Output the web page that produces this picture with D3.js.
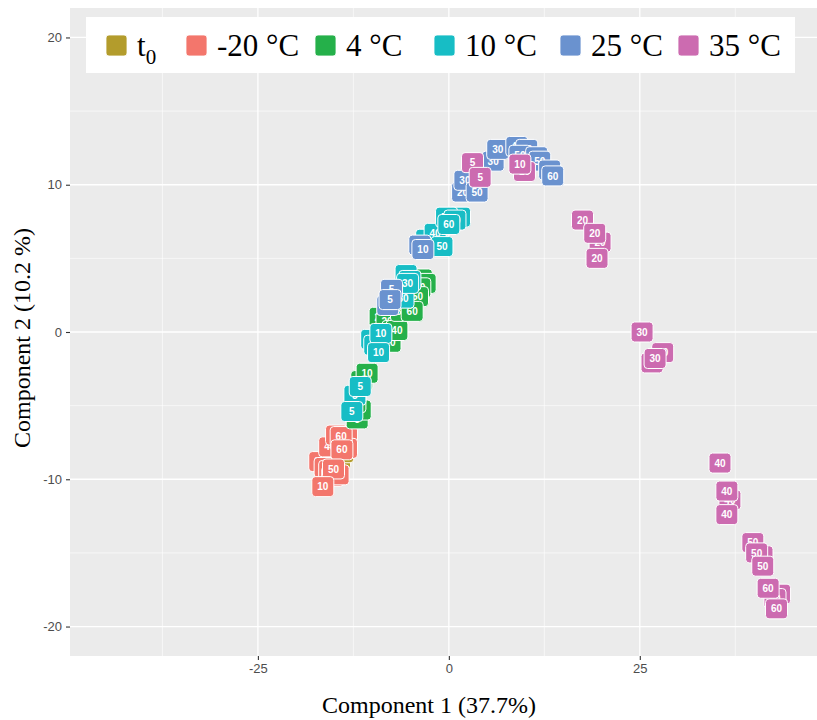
<!DOCTYPE html>
<html><head><meta charset="utf-8">
<script src="https://cdn.jsdelivr.net/npm/d3@7"></script>
<style>body{margin:0;background:#fff}</style>
</head><body><svg id="c" width="817" height="720"></svg>
<script>
// ---- data ----
const groupNames = ["t0", "-20 °C", "4 °C", "10 °C", "25 °C", "35 °C"];
const xTicks = [-25, 0, 25];
const yTicks = [-20, -10, 0, 10, 20];
const xMinor = [-37.5, -12.5, 12.5, 37.5];
const yMinor = [-15, -5, 5, 15];
// points: [component1, component2, label]
const ptsT0 = [[-14.3, -8.6, "0"], [-13.9, -8.2, "0"]];
const ptsM20 = [
  [-16.9, -8.8, "20"], [-16.2, -9.2, "30"], [-15.6, -9.4, "40"], [-15.2, -9.8, "10"],
  [-14.5, -9.7, "40"], [-15.6, -7.8, "40"], [-14.7, -7.0, "60"], [-13.4, -7.1, "50"],
  [-13.4, -7.9, "50"], [-14.1, -7.1, "60"], [-14.0, -8.0, "60"], [-15.1, -9.3, "50"],
  [-16.5, -10.5, "10"]
];
const pts4 = [
  [-12.0, -5.9, "5"], [-11.6, -5.3, "5"], [-12.3, -4.8, "5"], [-11.4, -3.3, "10"],
  [-10.7, -2.8, "10"], [-9.0, 1.0, "20"], [-8.1, 0.7, "20"], [-7.7, -0.7, "20"],
  [-7.3, 0.1, "40"], [-6.8, 0.1, "40"], [-3.6, 3.6, "30"], [-6.2, 1.4, "30"],
  [-3.1, 3.3, "50"], [-3.8, 3.0, "60"], [-4.1, 2.4, "50"], [-4.8, 1.4, "60"]
];
const pts10 = [
  [-12.3, -4.3, "5"], [-12.7, -5.4, "5"], [-11.6, -3.7, "5"], [-10.1, -0.5, "10"],
  [-9.7, -0.9, "10"], [-8.9, -0.1, "10"], [-9.2, -1.4, "10"], [-5.6, 3.9, "20"],
  [-5.1, 3.5, "20"], [-6.0, 2.3, "30"], [-5.4, 3.3, "30"], [-2.9, 6.3, "40"],
  [-1.8, 6.7, "40"], [-0.9, 5.8, "50"], [1.4, 7.8, "50"], [-0.3, 7.8, "50"],
  [0.8, 7.6, "60"], [0.0, 7.3, "60"]
];
const pts25 = [
  [-7.5, 2.9, "5"], [-8.0, 1.8, "5"], [-7.7, 2.2, "5"], [-3.8, 5.9, "10"],
  [-3.4, 5.6, "10"], [1.8, 9.5, "20"], [2.1, 10.3, "30"], [3.7, 9.5, "50"],
  [5.8, 11.6, "30"], [6.4, 12.4, "30"], [8.9, 12.6, "40"], [10.2, 12.4, "40"],
  [9.3, 12.0, "50"], [11.5, 11.9, "50"], [11.9, 11.6, "50"], [13.2, 11.0, "60"],
  [13.6, 10.6, "60"]
];
const pts35 = [
  [3.1, 11.5, "5"], [4.1, 10.5, "5"], [9.9, 10.9, "10"], [9.3, 11.4, "10"],
  [17.5, 7.6, "20"], [19.8, 6.1, "20"], [19.1, 6.7, "20"], [19.4, 5.0, "20"],
  [25.3, 0.0, "30"], [28.0, -1.4, "30"], [26.6, -2.1, "30"], [27.0, -1.8, "30"],
  [35.5, -8.9, "40"], [36.8, -11.4, "40"], [36.4, -10.8, "40"], [36.4, -12.4, "40"],
  [39.8, -14.3, "50"], [41.0, -15.2, "50"], [40.3, -15.0, "50"], [41.1, -15.9, "50"],
  [43.3, -17.8, "60"], [42.7, -18.1, "60"], [41.8, -17.4, "60"], [42.9, -18.8, "60"]
];
const seriesPts = [ptsT0, ptsM20, pts4, pts10, pts25, pts35];

// ---- style ----
const colors = ["#B39C2C", "#F3766C", "#25B04A", "#17BDC5", "#6A92CF", "#CC6BB0"];
const panel = {l: 70, r: 817, t: 8, b: 656};

const svg = d3.select("#c");
const x = d3.scaleLinear().domain([-49.6, 48.2]).range([panel.l, panel.r]);
const y = d3.scaleLinear().domain([-22, 22]).range([panel.b, panel.t]);

svg.append("rect").attr("x", panel.l).attr("y", panel.t)
  .attr("width", panel.r - panel.l).attr("height", panel.b - panel.t).attr("fill", "#EBEBEB");

const grid = svg.append("g");
grid.selectAll(".vmin").data(xMinor).join("line")
  .attr("x1", d => x(d)).attr("x2", d => x(d)).attr("y1", panel.t).attr("y2", panel.b)
  .attr("stroke", "#fff").attr("stroke-width", 0.6);
grid.selectAll(".hmin").data(yMinor).join("line")
  .attr("y1", d => y(d)).attr("y2", d => y(d)).attr("x1", panel.l).attr("x2", panel.r)
  .attr("stroke", "#fff").attr("stroke-width", 0.6);
grid.selectAll(".vmaj").data(xTicks).join("line")
  .attr("x1", d => x(d)).attr("x2", d => x(d)).attr("y1", panel.t).attr("y2", panel.b)
  .attr("stroke", "#fff").attr("stroke-width", 1.3);
grid.selectAll(".hmaj").data(yTicks).join("line")
  .attr("y1", d => y(d)).attr("y2", d => y(d)).attr("x1", panel.l).attr("x2", panel.r)
  .attr("stroke", "#fff").attr("stroke-width", 1.3);

// axes
const xAxis = svg.append("g").attr("transform", `translate(0,${panel.b})`)
  .call(d3.axisBottom(x).tickValues(xTicks).tickSize(4).tickPadding(4).tickFormat(d3.format("d")));
const yAxis = svg.append("g").attr("transform", `translate(${panel.l},0)`)
  .call(d3.axisLeft(y).tickValues(yTicks).tickSize(4).tickPadding(4).tickFormat(d3.format("d")));
[xAxis, yAxis].forEach(a => {
  a.select(".domain").remove();
  a.selectAll(".tick line").attr("stroke", "#333").attr("stroke-width", 1.1);
  a.selectAll(".tick text").attr("fill", "#4D4D4D").attr("font-family", "Liberation Sans, Arial, sans-serif")
    .attr("font-size", 13);
});
yAxis.selectAll(".tick text").text(d => d < 0 ? "-" + Math.abs(d) : d);
xAxis.selectAll(".tick text").text(d => d < 0 ? "-" + Math.abs(d) : d);

// labels (geom_label)
const marks = svg.append("g");
seriesPts.forEach((pts, gi) => {
  const g = marks.append("g");
  const lab = g.selectAll("g").data(pts).join("g")
    .attr("transform", d => `translate(${x(d[0])},${y(d[1])})`);
  lab.append("rect").attr("x", -11).attr("y", -10).attr("width", 22).attr("height", 20)
    .attr("rx", 3.5).attr("fill", colors[gi]).attr("stroke", "#fff").attr("stroke-width", 1);
  lab.append("text").attr("text-anchor", "middle").attr("dy", "0.36em")
    .attr("font-family", "Liberation Sans, Arial, sans-serif").attr("font-weight", "bold")
    .attr("font-size", 10).attr("fill", "#fff").text(d => d[2]);
});

// axis titles
svg.append("text").attr("x", 429).attr("y", 713).attr("text-anchor", "middle")
  .attr("font-family", "Liberation Serif, Times New Roman, serif").attr("font-size", 24)
  .attr("fill", "#000").text("Component 1 (37.7%)");
svg.append("text").attr("transform", "translate(30,338) rotate(-90)").attr("text-anchor", "middle")
  .attr("font-family", "Liberation Serif, Times New Roman, serif").attr("font-size", 24)
  .attr("fill", "#000").text("Component 2 (10.2 %)");

// legend
const legKeyX = [106, 186, 315, 434, 560, 678];
const leg = svg.append("g");
leg.append("rect").attr("x", 86).attr("y", 17).attr("width", 709).attr("height", 56).attr("fill", "#fff");
groupNames.forEach((name, i) => {
  leg.append("rect").attr("x", legKeyX[i]).attr("y", 35).attr("width", 21).attr("height", 21)
    .attr("rx", 3).attr("fill", colors[i]).attr("stroke", "#fff").attr("stroke-width", 0.8);
  const t = leg.append("text").attr("x", legKeyX[i] + 31).attr("y", 56)
    .attr("font-family", "Liberation Serif, Times New Roman, serif").attr("font-size", 31).attr("fill", "#000");
  if (name === "t0") {
    t.append("tspan").text("t");
    t.append("tspan").attr("dy", 8).attr("font-size", 21).text("0");
  } else {
    t.text(name);
  }
});
</script>
</body></html>
